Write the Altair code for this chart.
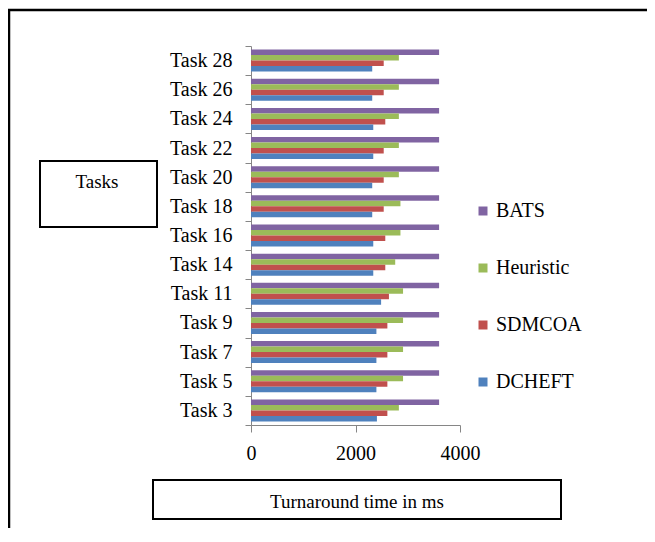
import altair as alt
import pandas as pd

tasks = ["Task 3", "Task 5", "Task 7", "Task 9", "Task 11", "Task 14", "Task 16",
         "Task 18", "Task 20", "Task 22", "Task 24", "Task 26", "Task 28"]
series = ["BATS", "Heuristic", "SDMCOA", "DCHEFT"]
colors = ["#8064A2", "#9BBB59", "#C0504D", "#4F81BD"]

bats = [3600, 3600, 3600, 3600, 3600, 3600, 3600, 3600, 3600, 3600, 3600, 3600, 3600]
heuristic = [2830, 2910, 2910, 2910, 2910, 2760, 2860, 2860, 2830, 2830, 2830, 2830, 2830]
sdmcoa = [2610, 2610, 2610, 2610, 2640, 2570, 2570, 2540, 2540, 2540, 2570, 2540, 2540]
dcheft = [2410, 2400, 2400, 2400, 2490, 2340, 2340, 2320, 2320, 2340, 2340, 2320, 2320]

rows = []
for name, vals in zip(series, [bats, heuristic, sdmcoa, dcheft]):
    for t, v in zip(tasks, vals):
        rows.append({"task": t, "series": name, "value": v})
df = pd.DataFrame(rows)

FONT = "Liberation Serif, Times New Roman, serif"
GREY = "#868686"

bars = alt.Chart(df).mark_bar().encode(
    y=alt.Y("task:N", sort=list(reversed(tasks)),
            scale=alt.Scale(paddingInner=0, paddingOuter=0),
            axis=alt.Axis(title=None, tickBand="extent", tickSize=6, tickColor=GREY,
                          domainColor=GREY, labelFont=FONT, labelFontSize=20,
                          labelColor="#000000", labelPadding=13, grid=False)),
    x=alt.X("value:Q", scale=alt.Scale(domain=[0, 4000], nice=False),
            axis=alt.Axis(title=None, values=[0, 2000, 4000], format="d", tickSize=7,
                          tickColor=GREY, domainColor=GREY, labelFont=FONT, labelFontSize=20,
                          labelColor="#000000", labelPadding=11, grid=False,
                          labelFlush=False)),
    yOffset=alt.YOffset("series:N", sort=series, scale=alt.Scale(paddingOuter=0.65, paddingInner=0)),
    color=alt.Color("series:N", sort=series,
                    scale=alt.Scale(domain=series, range=colors),
                    legend=alt.Legend(title=None, orient="none", legendX=222, legendY=155,
                                      symbolType="square", symbolSize=81, symbolStrokeWidth=0,
                                      labelFont=FONT, labelFontSize=20, labelColor="#000000",
                                      rowPadding=37, labelOffset=3, padding=0)),
)

one = pd.DataFrame({"k": [0]})

frame = alt.Chart(one).mark_rect(fill=None, stroke="#000000", strokeWidth=2.5).encode(
    x=alt.value(-242), x2=alt.value(500), y=alt.value(-36), y2=alt.value(600))

tasks_box = alt.Chart(one).mark_rect(fill=None, stroke="#000000", strokeWidth=2).encode(
    x=alt.value(-211), x2=alt.value(-94), y=alt.value(115), y2=alt.value(181))
tasks_text = alt.Chart(one).mark_text(text="Tasks", font=FONT, fontSize=19, color="#000000",
                                      baseline="alphabetic", align="center").encode(
    x=alt.value(-154), y=alt.value(141.7))

x_box = alt.Chart(one).mark_rect(fill=None, stroke="#000000", strokeWidth=2).encode(
    x=alt.value(-98), x2=alt.value(310), y=alt.value(434), y2=alt.value(473))
x_text = alt.Chart(one).mark_text(text="Turnaround time in ms", font=FONT, fontSize=19,
                                  color="#000000", baseline="alphabetic", align="center").encode(
    x=alt.value(106), y=alt.value(461.7))

chart = alt.layer(frame, bars, tasks_box, tasks_text, x_box, x_text).properties(
    width=209, height=379,
    autosize=alt.AutoSizeParams(type="none"),
    padding={"left": 243, "top": 38, "right": 187, "bottom": 103},
    background="#ffffff",
).configure(font=FONT).configure_legend(labelFont=FONT).configure_view(stroke=None)

chart.save("out.html", embed_options={"renderer": "svg", "actions": False})
